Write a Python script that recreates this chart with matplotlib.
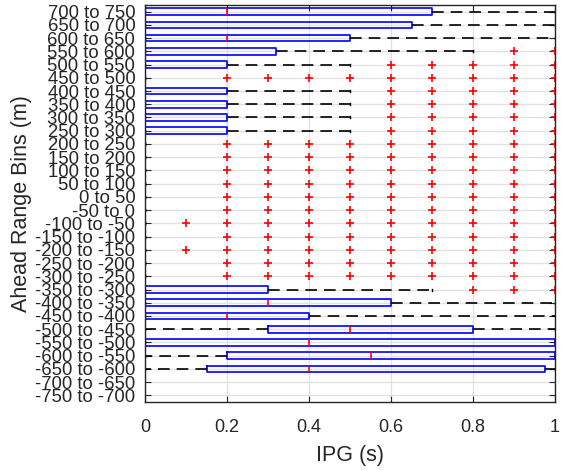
import matplotlib
matplotlib.use('Agg')
import matplotlib.pyplot as plt
import numpy as np

# range bins, listed top to bottom as in the figure
bins = ['700 to 750', '650 to 700', '600 to 650', '550 to 600', '500 to 550',
        '450 to 500', '400 to 450', '350 to 400', '300 to 350', '250 to 300',
        '200 to 250', '150 to 200', '100 to 150', '50 to 100', '0 to 50',
        '-50 to 0', '-100 to -50', '-150 to -100', '-200 to -150', '-250 to -200',
        '-300 to -250', '-350 to -300', '-400 to -350', '-450 to -400', '-500 to -450',
        '-550 to -500', '-600 to -550', '-650 to -600', '-700 to -650', '-750 to -700']

# box stats (None = no data in that bin)
q1 = [0, 0, 0, 0, 0, 0, 0, 0, 0, 0,
      0, 0, 0, 0, 0, 0, 0, 0, 0, 0,
      0, 0, 0, 0, 0.3, 0, 0.2, 0.15, None, None]
q3 = [0.7, 0.65, 0.5, 0.32, 0.2, 0, 0.2, 0.2, 0.2, 0.2,
      0, 0, 0, 0, 0, 0, 0, 0, 0, 0,
      0, 0.3, 0.6, 0.4, 0.8, 1.0, 1.0, 0.975, None, None]
med = [0.2, 0, 0.2, 0, 0, 0, 0, 0, 0, 0,
       0, 0, 0, 0, 0, 0, 0, 0, 0, 0,
       0, 0, 0.3, 0.2, 0.5, 0.4, 0.55, 0.4, None, None]
whislo = [0, 0, 0, 0, 0, 0, 0, 0, 0, 0,
          0, 0, 0, 0, 0, 0, 0, 0, 0, 0,
          0, 0, 0, 0, 0, 0, 0, 0, None, None]
whishi = [1.0, 1.0, 1.0, 0.8, 0.5, 0, 0.5, 0.5, 0.5, 0.5,
          0, 0, 0, 0, 0, 0, 0, 0, 0, 0,
          0, 0.7, 1.0, 1.0, 1.0, 1.0, 1.0, 1.0, None, None]
out_full = [0.2, 0.3, 0.4, 0.5, 0.6, 0.7, 0.8, 0.9, 1.0]
out_mid = [0.6, 0.7, 0.8, 0.9, 1.0]
outliers = [[], [], [], [0.9, 1.0], out_mid,
            out_full, out_mid, out_mid, out_mid, out_mid,
            out_full, out_full, out_full, out_full, out_full,
            out_full, [0.1] + out_full, out_full, [0.1] + out_full, out_full,
            out_full, [0.8, 0.9, 1.0], [], [], [],
            [], [], [], [], []]

plt.rcParams['font.family'] = ['Liberation Sans', 'DejaVu Sans']
txt = '#262626'

fig = plt.figure(figsize=(5.61, 4.70), dpi=100)
ax = fig.add_axes([145 / 561, 68 / 470, 410 / 561, 397 / 470])

stats, pos = [], []
for i in range(len(bins)):
    if q1[i] is None:
        continue
    stats.append(dict(med=med[i], q1=q1[i], q3=q3[i], whislo=whislo[i],
                      whishi=whishi[i], fliers=np.array(outliers[i])))
    pos.append(i)

ax.bxp(stats, positions=pos, orientation='horizontal', widths=0.5,
       capwidths=0.15, manage_ticks=False,
       boxprops=dict(color='blue', linewidth=1.2),
       medianprops=dict(color='red', linewidth=1.2),
       whiskerprops=dict(color='black', linewidth=1.2, linestyle=(0, (7, 4.2))),
       capprops=dict(color='black', linewidth=1.0),
       flierprops=dict(marker='+', markeredgecolor='red', markersize=6,
                       markeredgewidth=1.2, linestyle='none'))

ax.set_xlim(0, 1)
ax.set_ylim(len(bins) - 0.5, -0.5)
ax.set_yticks(range(len(bins)))
ax.set_yticklabels(bins)
ax.set_xticks([0, 0.2, 0.4, 0.6, 0.8, 1])
ax.set_xticklabels(['0', '0.2', '0.4', '0.6', '0.8', '1'])

ax.grid(True, color='#e2e2e2', linewidth=1.0)
ax.set_axisbelow(True)
ax.tick_params(direction='in', length=4, width=0.8, colors=txt, labelsize=13,
               top=True, right=True)
ax.tick_params(axis='x', pad=12)
ax.tick_params(axis='y', labelsize=13.3, pad=7)
for s in ax.spines.values():
    s.set_color(txt)
    s.set_linewidth(1.0)

ax.set_xlabel('IPG (s)', fontsize=15.5, color=txt, labelpad=7)
ax.set_ylabel('Ahead Range Bins (m)', fontsize=15.5, color=txt, labelpad=2)

fig.savefig('out.png', dpi=100)
